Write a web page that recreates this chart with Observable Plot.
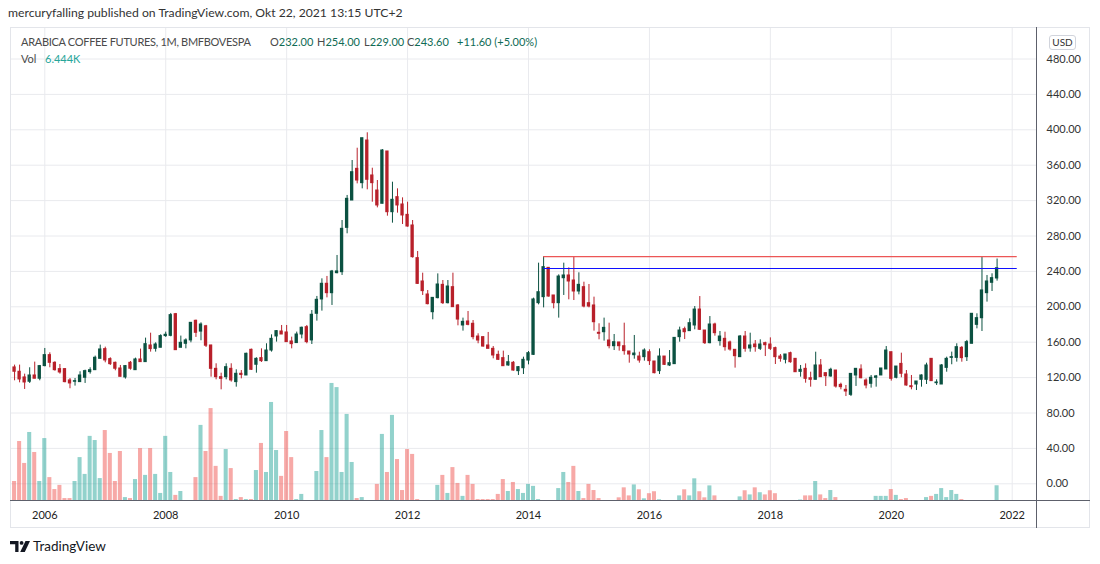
<!DOCTYPE html>
<html><head><meta charset="utf-8">
<script src="https://cdn.jsdelivr.net/npm/d3@7"></script>
<script src="https://cdn.jsdelivr.net/npm/@observablehq/plot@0.6"></script>
<style>
body{margin:0;width:1100px;height:564px;background:#fff;position:relative;overflow:hidden;font-family:Lato,"Open Sans",sans-serif;}
.abs{position:absolute;white-space:nowrap;}
.leg{font-size:11px;line-height:14px;color:#4a4a4a;}
.val{color:#0f6b55;}
</style></head><body>
<div class="abs" style="left:8px;top:5px;font-size:12.2px;line-height:15px;color:#333">mercuryfalling published on TradingView.com, Okt 22, 2021 13:15 UTC+2</div>
<div id="chart" class="abs" style="left:0;top:27px"></div>
<div class="abs" style="left:10px;top:27px;width:1080px;height:501px;box-sizing:border-box;border:1px solid #e3e5ea;pointer-events:none"></div>
<div class="abs" style="left:1036px;top:27px;width:1px;height:501px;background:#5d606b"></div>
<div class="abs" style="left:10px;top:500px;width:1080px;height:1px;background:#5d606b"></div>
<div class="abs leg" style="left:21px;top:35px;letter-spacing:-0.3px">ARABICA COFFEE FUTURES, 1M, BMFBOVESPA</div>
<div class="abs leg" style="left:270px;top:35px">O<span class="val">232.00</span></div>
<div class="abs leg" style="left:317px;top:35px">H<span class="val">254.00</span></div>
<div class="abs leg" style="left:364px;top:35px">L<span class="val">229.00</span></div>
<div class="abs leg" style="left:407px;top:35px">C<span class="val">243.60</span></div>
<div class="abs leg val" style="left:457px;top:35px">+11.60 (+5.00%)</div>
<div class="abs leg" style="left:21px;top:52px">Vol</div>
<div class="abs leg" style="left:45px;top:52px;color:#26a69a">6.444K</div>
<div class="abs" style="left:1049px;top:35px;width:27px;height:15px;box-sizing:border-box;border:1px solid #d1d4dc;border-radius:3px;font-size:10px;line-height:13px;text-align:center;color:#333;background:#fff">USD</div>
<svg class="abs" style="left:10px;top:541px" width="21" height="11" viewBox="0 0 21 11"><path d="M0 0h8.5v11H5.2V3.3H0z" fill="#131722"/><circle cx="11.6" cy="1.9" r="1.9" fill="#131722"/><path d="M15.5 0h4.5l-5.2 11H10.2z" fill="#131722"/></svg>
<div class="abs" style="left:33px;top:538px;font-size:13.5px;line-height:16px;color:#131722">TradingView</div>
<script>
// first candle: July 2005, monthly bars through October 2021
const firstYear = 2005, firstMonth = 7;
const open = [
131.5,126.6,120.2,115.3,122.4,118.7,
133.0,145.4,136.7,129.6,129.6,116.8,115.3,114.9,119.8,126.2,128.4,141.2,
152.2,140.9,136.7,130.3,120.2,136.7,128.4,140.5,137.5,156.3,152.5,153.7,
166.9,167.2,191.7,153.7,158.2,162.0,184.2,172.0,178.0,156.3,129.9,120.5,
120.5,129.9,114.9,124.3,122.4,151.4,134.5,142.0,138.6,150.6,166.5,172.1,
171.0,160.8,159.0,168.7,177.0,162.0,192.1,208.3,226.0,215.4,238.0,239.1,
289.2,320.1,355.9,339.7,387.9,348.4,331.4,316.4,375.5,306.9,323.9,315.6,
303.9,291.9,255.0,228.6,213.9,193.9,209.8,224.8,204.1,222.2,201.5,178.9,
183.4,180.8,166.4,165.7,156.3,152.5,145.7,142.0,133.7,136.7,127.3,130.6,
139.3,145.7,204.1,210.9,244.0,212.8,204.1,232.3,235.4,229.7,217.3,222.2,
204.1,201.5,170.6,171.3,161.9,155.5,159.7,155.5,149.5,145.3,143.8,143.1,
148.7,138.2,127.3,143.8,133.7,135.2,165.7,174.7,172.5,178.9,196.9,173.2,
158.9,180.0,161.2,163.8,159.7,151.4,143.1,166.4,152.9,157.4,152.5,158.9,
157.4,153.3,143.8,140.1,147.6,141.2,126.5,129.9,119.3,117.5,133.7,125.0,
121.3,128.0,111.8,106.2,100.5,122.4,129.2,116.7,113.0,119.8,122.4,129.2,
148.7,119.8,135.5,123.5,110.3,112.2,117.5,117.5,141.2,113.7,112.2,131.0,
142.3,142.3,153.6,143.1,158.2,179.6,187.1,215.4,227.1,232.0];
const high = [
134.1,134.1,123.9,131.1,137.5,133.7,
152.9,148.0,137.9,134.8,130.3,119.0,119.0,126.6,128.4,131.1,144.3,156.7,
154.4,142.4,137.5,133.7,133.7,138.2,142.0,152.2,164.6,170.2,159.3,168.4,
171.4,192.5,192.5,166.9,163.8,181.9,184.9,181.9,179.0,156.5,135.6,125.0,
135.6,135.6,128.8,128.0,147.6,152.2,142.4,152.5,158.2,168.3,173.2,178.9,
178.9,165.7,171.4,177.0,178.9,195.8,211.7,231.6,234.3,241.1,258.0,297.5,
325.8,365.3,379.2,390.5,396.6,356.6,342.7,377.7,375.5,340.8,333.3,323.1,
318.2,297.5,262.5,238.0,218.4,210.1,237.2,229.7,229.7,238.0,202.6,187.2,
194.7,184.5,169.5,166.4,171.0,155.1,149.9,149.9,145.0,138.2,132.5,143.1,
149.5,209.8,249.3,256.8,244.0,212.8,236.1,249.3,244.0,256.8,238.4,227.8,
225.2,210.9,180.8,187.2,181.5,168.7,159.7,181.5,149.5,167.6,148.7,152.5,
151.4,138.2,152.5,143.8,150.6,164.9,177.0,177.0,186.4,200.3,211.6,173.2,
189.0,181.5,172.1,171.3,161.2,151.4,167.6,172.1,170.2,161.9,162.7,160.0,
164.9,154.4,146.1,146.1,148.7,141.2,133.7,135.5,126.1,148.7,140.4,125.4,
130.6,128.0,113.7,111.1,124.3,130.3,134.4,118.6,122.4,122.4,130.3,155.1,
148.7,132.5,147.6,128.0,122.4,115.6,123.1,136.3,141.2,117.5,134.8,143.1,
148.8,158.2,155.1,162.0,192.1,192.1,256.8,235.4,237.3,254.0];
const low = [
116.4,114.1,106.6,113.4,118.7,116.4,
132.2,131.1,127.3,123.9,114.1,107.4,110.4,114.5,113.4,123.9,128.4,141.2,
136.7,133.7,127.7,120.9,118.3,128.4,128.4,137.5,137.5,148.8,148.8,153.7,
165.4,166.1,151.0,153.7,152.5,159.3,165.4,161.6,154.0,120.5,117.5,106.2,
117.5,114.9,109.2,118.6,122.4,128.1,125.0,137.1,138.6,148.8,160.1,168.7,
160.1,152.5,159.0,163.8,158.2,157.4,183.8,195.1,210.1,201.5,237.3,235.4,
282.5,320.1,338.9,333.3,332.2,318.2,311.8,316.4,302.4,294.5,305.8,293.0,
290.0,255.0,225.2,212.8,202.2,185.3,209.0,202.6,203.3,199.6,178.5,172.5,
178.5,162.7,158.2,154.4,152.5,141.2,139.3,132.9,132.9,127.3,122.4,123.5,
134.4,145.0,202.2,198.8,210.9,197.7,187.2,212.8,207.9,207.1,213.5,198.8,
198.8,172.5,162.7,161.2,152.5,150.6,149.9,145.3,136.3,140.8,136.3,138.6,
133.7,124.3,123.5,133.7,132.5,134.8,160.0,163.0,172.5,174.0,173.2,157.4,
158.2,166.8,155.5,149.9,149.9,130.7,143.1,148.7,148.7,148.7,150.6,143.8,
150.6,134.8,137.4,135.5,136.3,126.1,120.5,113.7,109.2,117.5,120.5,109.9,
120.5,108.1,106.2,98.6,98.6,110.0,118.6,107.3,108.1,109.2,122.4,129.2,
116.0,118.6,119.8,110.3,106.2,105.4,109.2,112.2,116.0,111.1,112.2,126.1,
134.5,137.5,137.4,138.2,158.2,175.1,172.1,205.3,217.3,229.0];
const close = [
126.6,117.9,114.5,122.4,118.7,133.0,
145.4,136.7,128.4,125.8,114.9,113.4,116.0,122.4,127.3,128.4,142.4,151.8,
139.4,135.2,130.0,120.9,133.0,130.0,140.5,137.5,157.8,152.2,157.4,166.9,
168.4,190.6,151.0,159.3,162.0,181.9,170.6,180.0,156.0,129.9,120.5,118.6,
131.8,116.8,124.3,123.0,146.9,128.8,141.2,138.6,150.6,163.8,172.5,168.7,
160.1,157.8,168.7,176.3,160.1,191.0,207.9,226.0,215.4,239.9,240.0,288.1,
322.0,352.1,342.7,390.5,343.5,339.7,314.5,376.6,306.9,320.9,314.5,303.2,
290.7,256.1,225.9,217.7,203.0,210.1,225.2,204.1,222.9,199.6,185.6,183.0,
179.6,165.7,161.9,155.1,152.5,145.0,140.1,132.9,137.4,128.0,131.8,140.1,
147.6,208.3,216.5,244.8,211.6,204.1,234.2,235.4,228.6,217.3,224.8,200.3,
200.3,182.6,169.5,176.2,155.5,160.0,155.5,149.9,146.1,147.2,139.3,150.6,
138.6,125.0,143.8,134.4,136.3,164.9,173.2,171.3,181.5,196.9,174.0,158.9,
180.0,170.2,166.4,154.4,151.7,144.2,166.4,152.5,156.3,154.4,157.4,156.6,
152.5,143.1,141.2,146.1,137.4,126.1,128.8,118.6,117.5,133.7,120.5,121.6,
128.8,109.9,109.2,104.3,124.2,129.9,119.3,111.1,119.8,121.3,130.3,150.6,
118.6,132.5,124.3,111.1,109.2,115.6,122.4,133.7,116.0,114.5,133.7,141.2,
143.1,154.4,142.0,160.1,192.1,187.2,218.5,228.6,232.4,243.6];
// volume in thousands of contracts
const volume = [
8.2,24.6,15.6,28.3,20.1,8.2,
25.8,9.8,4.9,6.6,1.2,1.2,8.2,18.0,11.1,26.7,25.0,9.4,
29.1,19.7,8.2,20.5,1.6,1.2,9.0,21.7,10.7,21.7,11.1,3.3,
26.7,11.9,2.5,4.1,0.4,0.4,9.8,31.2,20.5,38.1,14.4,2.1,
21.3,13.5,0.8,1.6,0.8,0.8,12.7,23.8,11.9,40.6,20.9,10.3,
28.7,18.0,0.8,2.9,0.4,0.4,12.3,29.1,18.0,48.4,46.7,11.9,
35.7,16.0,1.2,1.6,0.4,0.4,7.0,27.5,11.9,35.3,17.2,4.5,
21.3,19.3,0.8,0.4,0.4,0.4,6.6,10.7,3.3,13.9,7.4,2.1,
10.7,7.0,0.8,0.8,0.8,0.8,2.9,9.0,4.1,7.8,4.9,3.3,
7.0,6.2,0.8,0.4,0.4,0.4,5.3,11.9,7.8,14.4,4.1,1.2,
7.0,4.5,1.2,0.3,0.3,0.3,1.5,5.6,2.3,6.8,4.8,1.1,
3.2,4.0,0.7,0.3,0.3,0.3,2.3,4.8,2.3,9.3,4.0,1.5,
6.4,2.3,0.3,0.3,0.3,0.3,1.9,4.4,2.7,5.6,3.6,2.7,
4.4,3.2,0.3,0.3,0.3,0.3,0.6,2.3,2.3,8.2,2.7,1.2,
4.5,1.6,0.4,0.4,0.4,0.4,0.4,0.4,0.4,2.1,2.1,2.1,
4.9,2.5,0.8,1.2,0.4,0.4,0.4,1.6,2.1,2.9,5.3,1.6,
4.5,2.9,0.8,0.4,0.4,0.4,0.4,0.4,0.4,6.444];
const priceTicks = [0,40,80,120,160,200,240,280,320,360,400,440,480];
const yearLabels = [2006,2008,2010,2012,2014,2016,2018,2020,2022];
// horizontal levels drawn on the chart
const levelValues = [256.8, 243.3];
const levelStart = [2014, 4];
const levelEnd = [2022, 2];

const baseYear = 2006;
const mIndex = (y, m) => (y - baseYear) * 12 + (m - 1);
const t0 = mIndex(firstYear, firstMonth);
const rows = open.map((o, i) => ({
  t: t0 + i, open: o, high: high[i], low: low[i], close: close[i], volume: volume[i]
}));
const levels = levelValues.map((v, i) => ({value: v, i}));
const levelColors = ["#ec5656", "#1010ff"];

const UP = "#0b5141", DOWN = "#b8202a";
const isUp = d => d.close >= d.open;
const volBase = -20;          // volume overlay baseline (price units)
const volK = 2.756;           // price units per thousand contracts
const xTicks = yearLabels.map(y => mIndex(y, 1));

const chart = Plot.plot({
  width: 1100, height: 502,
  marginLeft: 10, marginRight: 63.5, marginTop: 0, marginBottom: 28,
  style: {fontFamily: "Lato, 'Open Sans', sans-serif", fontSize: "11px", color: "#333", background: "transparent", overflow: "visible"},
  x: {type: "linear", domain: [0, 192], range: [44.3, 1011.7], axis: null},
  y: {domain: [volBase, 480], range: [474, 31.5], axis: null},
  color: {type: "identity"},
  marks: [
    Plot.ruleY(priceTicks, {stroke: "#e9eaee", strokeWidth: 1}),
    Plot.ruleX(xTicks, {stroke: "#e9eaee", strokeWidth: 1}),
    Plot.rect(rows, {
      x1: d => d.t - 0.4, x2: d => d.t + 0.4,
      y1: volBase, y2: d => volBase + d.volume * volK,
      fill: d => isUp(d) ? "#26a69a" : "#ef5350", fillOpacity: 0.5
    }),
    Plot.ruleX(rows, {x: "t", y1: "low", y2: "high", stroke: d => isUp(d) ? UP : DOWN, strokeWidth: 1}),
    Plot.rect(rows, {
      x1: d => d.t - 0.33, x2: d => d.t + 0.33, y1: "open", y2: "close",
      fill: d => isUp(d) ? UP : DOWN, insetTop: -0.5, insetBottom: -0.5
    }),
    Plot.ruleY(levels, {
      y: "value", x1: () => mIndex(...levelStart), x2: () => mIndex(...levelEnd),
      stroke: d => levelColors[d.i], strokeWidth: 1.2
    }),
    Plot.axisY({ticks: priceTicks, anchor: "right", tickSize: 0, tickPadding: 9.5, label: null,
      tickFormat: d3.format(".2f"), fill: "#333"}),
    Plot.axisX({ticks: xTicks, anchor: "bottom", tickSize: 0, tickPadding: 9.5, label: null,
      tickFormat: d => String(baseYear + d / 12), fill: "#222"})
  ]
});
document.getElementById("chart").appendChild(chart);
</script>
</body></html>
